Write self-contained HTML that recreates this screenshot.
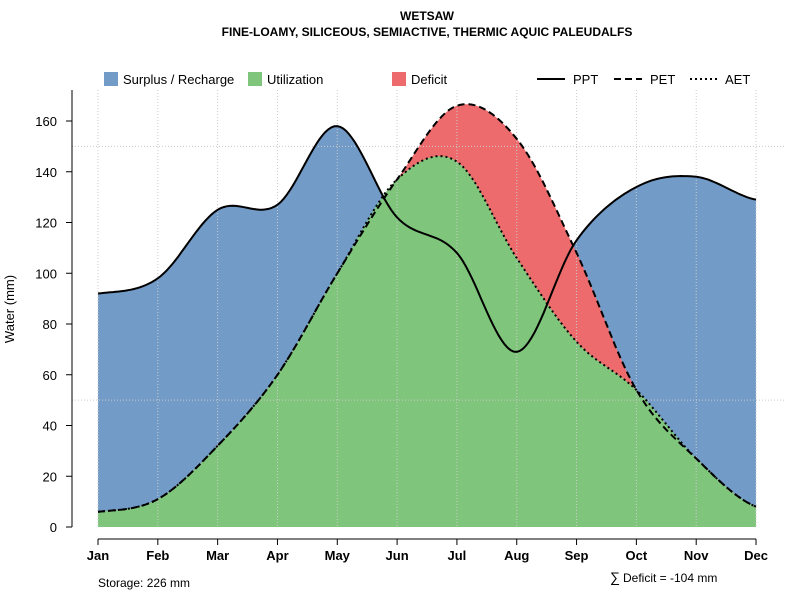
<!DOCTYPE html>
<html><head><meta charset="utf-8"><style>
body{margin:0;background:#fff;font-family:"Liberation Sans",sans-serif}
</style></head><body>
<svg id="s" width="800" height="600" xmlns="http://www.w3.org/2000/svg" font-family="Liberation Sans, sans-serif">
<g id="fills"></g>
<g stroke="#ccc" stroke-dasharray="1,2" stroke-width="1" id="grid"></g>
<g id="lines" fill="none" stroke="#000" stroke-width="2"></g>
<text x="427" y="20" font-size="12" font-weight="bold" text-anchor="middle">WETSAW</text>
<text x="427" y="36" font-size="12" font-weight="bold" text-anchor="middle">FINE-LOAMY, SILICEOUS, SEMIACTIVE, THERMIC AQUIC PALEUDALFS</text>
<rect x="104" y="72" width="14" height="14" fill="#729bc8"/><text x="123" y="84" font-size="13">Surplus / Recharge</text>
<rect x="248" y="72" width="14" height="14" fill="#7fc57b"/><text x="267" y="84" font-size="13">Utilization</text>
<rect x="392" y="72" width="14" height="14" fill="#ed6b6c"/><text x="411" y="84" font-size="13">Deficit</text>
<line x1="537" y1="79" x2="565" y2="79" stroke="#000" stroke-width="2"/><text x="573" y="84" font-size="13">PPT</text>
<line x1="614" y1="79" x2="642" y2="79" stroke="#000" stroke-width="2" stroke-dasharray="7,4"/><text x="650" y="84" font-size="13">PET</text>
<line x1="690" y1="79" x2="718" y2="79" stroke="#000" stroke-width="2" stroke-dasharray="2,3"/><text x="725" y="84" font-size="13">AET</text>
<g id="axes" font-size="13"></g>
<text transform="translate(14,309) rotate(-90)" font-size="13" text-anchor="middle">Water (mm)</text>
<text x="98" y="587" font-size="12">Storage: 226 mm</text>
<text x="610" y="582" font-size="14">∑</text><text x="623" y="582" font-size="12">Deficit = -104 mm</text>
</svg>
<script>
var X=function(m){return 98+m*59.82},Y=function(v){return 527-v*2.5375};
var ppt=[92,98,125,127,158,122,108,69,113,134,138,129];
var pet=[6,11,32,60,100,137,166,153,108,54,27,8];
var aet=[6,11,32,60,100,137,144,106,73,54,27,8];
function pts(a){var p=[];for(var i=0;i<a.length-1;i++){var p0=a[Math.max(i-1,0)],p1=a[i],p2=a[i+1],p3=a[Math.min(i+2,a.length-1)];for(var t=0;t<1;t+=0.05){var t2=t*t,t3=t2*t;var v=0.5*((2*p1)+(-p0+p2)*t+(2*p0-5*p1+4*p2-p3)*t2+(-p0+3*p1-3*p2+p3)*t3);p.push([X(i+t),Y(v)]);}}p.push([X(a.length-1),Y(a[a.length-1])]);return p;}
function line(p){return "M"+p.map(function(q){return q[0].toFixed(1)+","+q[1].toFixed(1)}).join("L");}
function area(p){return line(p)+"L"+X(11)+","+Y(0)+"L"+X(0)+","+Y(0)+"Z";}
var P=pts(ppt),E=pts(pet),A=pts(aet);
var f=document.getElementById("fills");
f.innerHTML='<path d="'+area(P)+'" fill="#729bc8"/><path d="'+area(E)+'" fill="#ed6b6c"/><path d="'+area(A)+'" fill="#7fc57b"/>';
var g=document.getElementById("grid"),h="";
for(var i=0;i<12;i++)h+='<line x1="'+X(i)+'" y1="90" x2="'+X(i)+'" y2="527"/>';
h+='<line x1="72" y1="'+Y(50)+'" x2="785" y2="'+Y(50)+'"/><line x1="72" y1="'+Y(150)+'" x2="785" y2="'+Y(150)+'"/>';
g.innerHTML=h;
document.getElementById("lines").innerHTML='<path d="'+line(A)+'" stroke-dasharray="2,3"/><path d="'+line(E)+'" stroke-dasharray="7,4"/><path d="'+line(P)+'"/>';
var ax="",ms=["Jan","Feb","Mar","Apr","May","Jun","Jul","Aug","Sep","Oct","Nov","Dec"];
ax+='<line x1="72" y1="90" x2="72" y2="527" stroke="#000"/><line x1="98" y1="539" x2="756" y2="539" stroke="#000"/>';
for(var v=0;v<=160;v+=20){ax+='<line x1="66" y1="'+Y(v)+'" x2="72" y2="'+Y(v)+'" stroke="#000"/><text x="57" y="'+(Y(v)+5)+'" text-anchor="end">'+v+'</text>';}
for(var i=0;i<12;i++){ax+='<line x1="'+X(i)+'" y1="539" x2="'+X(i)+'" y2="545" stroke="#000"/><text x="'+X(i)+'" y="560" text-anchor="middle" font-weight="bold">'+ms[i]+'</text>';}
document.getElementById("axes").innerHTML=ax;
</script>
</body></html>
